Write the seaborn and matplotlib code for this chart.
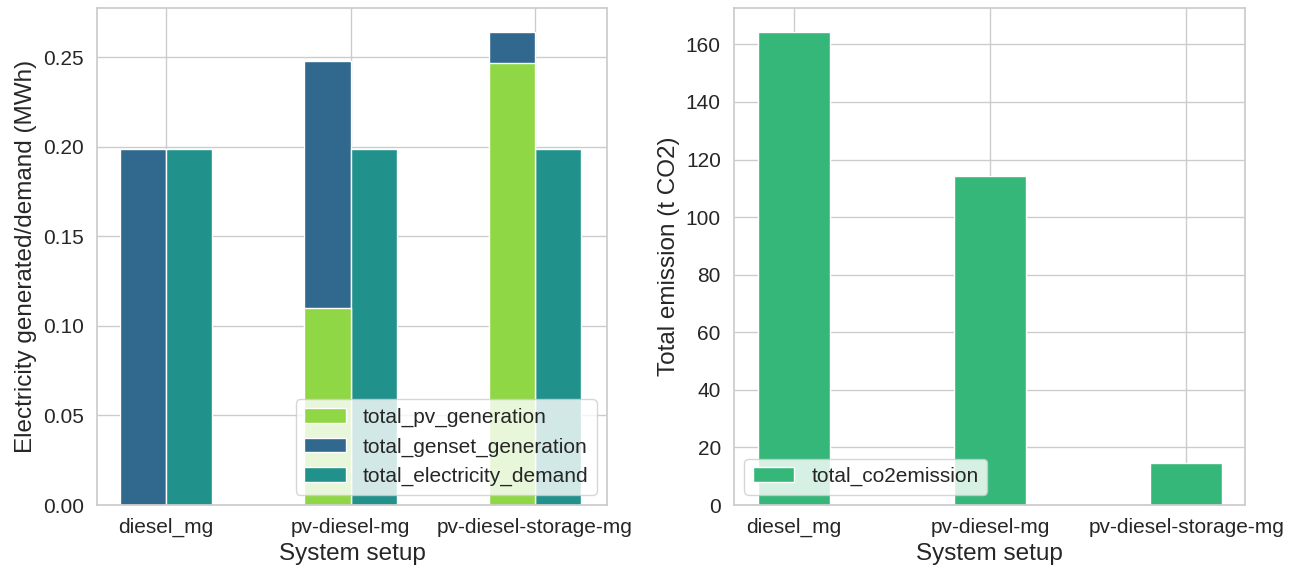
import pandas as pd
import numpy as np
import matplotlib.pyplot as plt
import seaborn as sns
from matplotlib.patches import Patch

# Values
setups = ['diesel_mg', 'pv-diesel-mg', 'pv-diesel-storage-mg']
pv_generation = [0.0, 0.110, 0.2465]
genset_generation = [0.1985, 0.138, 0.0177]
electricity_demand = [0.1985, 0.1985, 0.1985]
co2_emission = [164.4, 114.3, 14.6]

c_pv = '#8fd744'
c_genset = '#31688e'
c_demand = '#21918c'
c_co2 = '#35b779'

sns.set_theme(style='whitegrid')
plt.rcParams['font.family'] = ['Liberation Sans', 'DejaVu Sans']

total_gen = [p + g for p, g in zip(pv_generation, genset_generation)]

# long tables: generation stack sits left of each category, demand right
stack_df = pd.DataFrame({
    'setup': setups * 2,
    'kind': ['generation'] * 3 + ['demand'] * 3,
    'value': total_gen + electricity_demand,
})
pv_df = pd.DataFrame({'setup': setups, 'kind': ['generation'] * 3, 'value': pv_generation})
co2_df = pd.DataFrame({'setup': setups, 'co2': co2_emission})

hue_order = ['generation', 'demand']

fig = plt.figure(figsize=(12.96, 5.75), dpi=100)
ax1 = fig.add_axes([0.0748, 0.1217, 0.3936, 0.8643])
ax2 = fig.add_axes([0.5664, 0.1217, 0.3942, 0.8643])

# Left: stacked generation vs demand
sns.barplot(data=stack_df, x='setup', y='value', hue='kind', hue_order=hue_order, order=setups,
            palette={'generation': c_genset, 'demand': c_demand}, width=0.5, dodge=True,
            saturation=1, edgecolor='white', linewidth=1, legend=False, ax=ax1)
sns.barplot(data=pv_df, x='setup', y='value', hue='kind', hue_order=hue_order, order=setups,
            palette={'generation': c_pv, 'demand': c_demand}, width=0.5, dodge=True,
            saturation=1, edgecolor='white', linewidth=1, legend=False, ax=ax1)
ax1.set_xlim(-0.374, 2.39)
ax1.set_ylim(0, max(total_gen) * 1.05)
ax1.grid(True, axis='x')
ax1.set_axisbelow(True)
ax1.set_xlabel('System setup', fontsize=17.5)
ax1.set_ylabel('Electricity generated/demand (MWh)', fontsize=17.5)
ax1.tick_params(labelsize=15)
handles = [Patch(facecolor=c_pv, edgecolor='white', label='total_pv_generation'),
           Patch(facecolor=c_genset, edgecolor='white', label='total_genset_generation'),
           Patch(facecolor=c_demand, edgecolor='white', label='total_electricity_demand')]
ax1.legend(handles=handles, loc='lower right', fontsize=15)

# Right: emissions
sns.barplot(data=co2_df, x='setup', y='co2', order=setups, color=c_co2, width=0.367,
            saturation=1, edgecolor='white', linewidth=1, ax=ax2)
ax2.set_xlim(-0.306, 2.30)
ax2.set_ylim(0, max(co2_emission) * 1.05)
ax2.grid(True, axis='x')
ax2.set_axisbelow(True)
ax2.set_xlabel('System setup', fontsize=17.5)
ax2.set_ylabel('Total emission (t CO2)', fontsize=17.5)
ax2.tick_params(labelsize=15)
ax2.legend(handles=[Patch(facecolor=c_co2, edgecolor='white', label='total_co2emission')],
           loc='lower left', fontsize=15)

plt.savefig('out.png', dpi=100)
